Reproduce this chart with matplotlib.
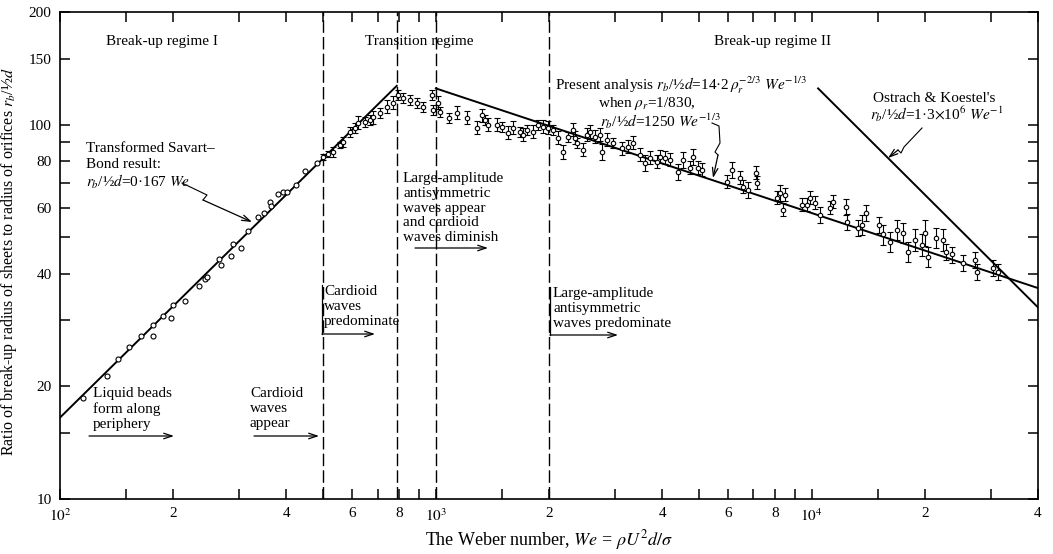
import numpy as np
import matplotlib
matplotlib.use("Agg")
import matplotlib.pyplot as plt
from matplotlib.ticker import FixedLocator, FixedFormatter, NullLocator

plt.rcParams['font.family'] = ['Liberation Serif', 'DejaVu Serif']
plt.rcParams['mathtext.fontset'] = 'stix'

# --- data ---
# break-up regime I, plain open circles
we_plain = [115, 133, 143, 153, 164, 177, 177, 188, 197, 200,
            215, 234, 243, 246, 265, 268, 285, 289, 303, 316,
            336, 349, 362, 364, 380, 392, 401, 424, 448, 483]
r_plain = [18.6, 21.3, 23.6, 25.4, 27.2, 27.2, 29.2, 30.9, 30.5, 32.9,
           33.9, 37.0, 38.6, 39.3, 43.9, 42.1, 44.7, 48.1, 46.7, 52.1,
           56.8, 58.2, 62.3, 60.8, 65.4, 66.2, 66.2, 69.1, 75.3, 79.1]

# points shown with error bars (We, r, error in %)
we_bar = [501, 516, 532, 555, 566, 591, 609, 620, 647, 667,
          680, 710, 741, 769, 792, 817, 853, 890, 923, 976,
          982, 1012, 1025, 1083, 1137, 1209, 1285, 1325, 1349, 1375,
          1453, 1498, 1554, 1603, 1672, 1704, 1746, 1811, 1867, 1926,
          1986, 2048, 2111, 2177, 2245, 2314, 2344, 2371, 2460, 2522,
          2568, 2648, 2730, 2764, 2850, 2956, 3123, 3240, 3341, 3488,
          3596, 3708, 3870, 3944, 4066, 4192, 4401, 4538, 4738, 4826,
          4975, 5099, 5942, 6126, 6435, 6554, 6760, 7100, 7145, 8070,
          8222, 8375, 8479, 9402, 9700, 9885, 10190, 10500, 11160, 11370,
          12310, 12390, 13250, 13580, 13920, 15070, 15450, 16120, 16830, 17460,
          17990, 18790, 19620, 19980, 20350, 21380, 22300, 22700, 23560, 25210,
          27140, 27480, 30280, 31240]
r_bar = [82.1, 83.6, 84.6, 88.3, 90.0, 95.7, 98.1, 101.2, 101.8, 103.0,
         104.9, 107.6, 111.6, 114.4, 120.1, 117.9, 116.5, 114.4, 111.6, 120.1,
         109.6, 114.4, 108.3, 104.3, 107.6, 104.3, 98.1, 106.2, 103.0, 99.9,
         99.9, 98.7, 95.2, 98.1, 95.7, 94.0, 96.9, 95.7, 99.9, 98.7,
         98.1, 96.9, 92.3, 84.6, 92.8, 96.9, 92.3, 89.5, 85.7, 94.0,
         95.7, 92.8, 94.0, 84.6, 91.1, 89.5, 86.7, 87.3, 89.5, 83.1,
         79.1, 81.6, 79.6, 82.1, 81.6, 80.6, 74.9, 80.6, 76.7, 82.1,
         76.7, 75.8, 70.4, 75.8, 72.1, 68.3, 67.0, 74.4, 70.0, 63.8,
         65.8, 59.3, 65.0, 61.1, 61.1, 63.8, 61.9, 57.5, 60.0, 62.3,
         60.4, 55.1, 53.1, 54.1, 58.2, 54.1, 50.9, 48.7, 52.4, 51.5,
         45.8, 49.3, 47.8, 51.5, 44.4, 49.9, 49.3, 45.8, 45.0, 42.8,
         43.6, 40.5, 41.5, 40.5]
err_pct = [2, 2, 3, 2, 3, 3, 3, 4, 3, 3,
           4, 3, 4, 4, 3, 3, 3, 3, 3, 3,
           3, 4, 3, 3, 4, 4, 4, 4, 3, 4,
           4, 3, 4, 4, 3, 4, 3, 4, 3, 4,
           4, 3, 4, 4, 3, 4, 4, 3, 4, 4,
           4, 4, 4, 5, 4, 3, 4, 4, 4, 4,
           5, 4, 4, 4, 4, 4, 5, 5, 4, 5,
           4, 4, 4, 5, 4, 4, 5, 4, 4, 4,
           5, 4, 4, 4, 4, 4, 4, 5, 4, 4,
           5, 5, 5, 6, 5, 5, 6, 6, 6, 6,
           6, 7, 7, 8, 6, 6, 7, 5, 5, 5,
           5, 5, 5, 5]

# straight-line results (end points)
savart_we = [100, 787]
savart_r = [16.5, 127]
present_we = [1000, 40000]
present_r = [125, 36.6]
ostrach_we = [10400, 40000]
ostrach_r = [125, 32.5]

# regime boundaries (vertical dashed lines)
regime_bounds = [500, 790, 1000, 2000]

x_ticks = [100, 150, 200, 300, 400, 500, 600, 700, 800, 900,
           1000, 1500, 2000, 3000, 4000, 5000, 6000, 7000, 8000, 9000,
           10000, 15000, 20000, 30000, 40000]
x_labels = {100: '$10^2$', 200: '2', 400: '4', 600: '6', 800: '8',
            1000: '$10^3$', 2000: '2', 4000: '4', 6000: '6', 8000: '8',
            10000: '$10^4$', 20000: '2', 40000: '4'}
y_ticks = [10, 15, 20, 30, 40, 50, 60, 70, 80, 90, 100, 150, 200]
y_labels = {10: '10', 20: '20', 40: '40', 60: '60', 80: '80',
            100: '100', 150: '150', 200: '200'}

W, H = 1053, 554
fig = plt.figure(figsize=(W / 100, H / 100), dpi=100)
AX_L, AX_R, AX_T, AX_B = 60, 1038, 12, 499
ax = fig.add_axes([AX_L / W, 1 - AX_B / H, (AX_R - AX_L) / W, (AX_B - AX_T) / H])
ax.set_xscale('log')
ax.set_yscale('log')
ax.set_xlim(100, 40000)
ax.set_ylim(10, 200)

ax.xaxis.set_major_locator(FixedLocator(x_ticks))
ax.xaxis.set_major_formatter(FixedFormatter([x_labels.get(t, '') for t in x_ticks]))
ax.yaxis.set_major_locator(FixedLocator(y_ticks))
ax.yaxis.set_major_formatter(FixedFormatter([y_labels.get(t, '') for t in y_ticks]))
ax.xaxis.set_minor_locator(NullLocator())
ax.yaxis.set_minor_locator(NullLocator())
ax.tick_params(direction='in', top=True, right=True, length=7, width=1.1,
               labelsize=11, pad=6)
for sp in ax.spines.values():
    sp.set_linewidth(1.2)

# regime boundaries
for we in regime_bounds:
    ax.axvline(we, color='k', lw=1.0, dashes=(9, 3))

# correlation lines
ax.plot(savart_we, savart_r, color='k', lw=1.4)
ax.plot(present_we, present_r, color='k', lw=1.4)
ax.plot(ostrach_we, ostrach_r, color='k', lw=1.4)

# measurements
ax.plot(we_plain, r_plain, 'o', mfc='white', mec='k', ms=3.6, mew=0.8)
we_b = np.array(we_bar)
r_b = np.array(r_bar)
yerr = r_b * np.array(err_pct) / 100.0
ax.errorbar(we_b, r_b, yerr=yerr, fmt='o', mfc='white', mec='k', ms=3.2,
            mew=0.8, ecolor='k', elinewidth=0.8, capsize=2, capthick=0.8)


# --- annotations, positioned in figure pixels ---
def px(x, y):
    return ((x - AX_L) / (AX_R - AX_L), (AX_B - y) / (AX_B - AX_T))


def note(x, y, s, va='top', **kw):
    ax.text(*px(x, y), s, transform=ax.transAxes, fontsize=11, ha='left',
            va=va, linespacing=1.18, **kw)


def arrow(p0, p1):
    ax.annotate('', xy=px(*p1), xytext=px(*p0), xycoords='axes fraction',
                textcoords='axes fraction',
                arrowprops=dict(arrowstyle='->,head_length=0.6,head_width=0.2',
                                color='k', lw=0.9, shrinkA=0, shrinkB=0))


def leader(points):
    pts = [px(*p) for p in points]
    xs, ys = zip(*pts[:-1])
    ax.plot(xs, ys, color='k', lw=0.8, transform=ax.transAxes)
    arrow(points[-2], points[-1])


def bracket(x, y0, y1, x1):
    ax.plot(*zip(px(x, y0), px(x, y1)), color='k', lw=0.9, transform=ax.transAxes)
    arrow((x, y1), (x1, y1))


HALF = '$r_b$/\u00bd$d$'

note(106, 35, 'Break-up regime I')
note(365, 35, 'Transition regime')
note(714, 35, 'Break-up regime II')

note(86, 148, 'Transformed Savart\u2013', va='center')
note(86, 165, 'Bond result:', va='center')
note(86, 182, HALF + '=0·167 $We$', va='center')
leader([(182, 183), (207, 195), (203, 200), (252, 222)])

note(555, 85, 'Present analysis ' + HALF + r'=14·2$\,\rho_r^{-2/3}$ $We^{-1/3}$',
     va='center')
note(598, 104, r'when $\rho_r$=1/830,', va='center')
note(600, 121, HALF + r'=1250 $We^{-1/3}$', va='center')
leader([(712, 123), (719, 126), (720, 143), (715, 152), (718, 155), (713, 178)])

note(873, 98, "Ostrach & Koestel's", va='center')
note(870, 114, HALF + r'=1·3$\times$10$^6$ $We^{-1}$', va='center')
leader([(922, 128), (904, 147), (901, 153), (898, 150), (888, 158)])

note(403, 172, 'Large-amplitude\nantisymmetric\nwaves appear\nand cardioid\nwaves diminish')
arrow((415, 248), (488, 248))

note(324, 285, 'Cardioid\nwaves\npredominate')
bracket(322, 285, 334, 375)

note(553, 287, 'Large-amplitude\nantisymmetric\nwaves predominate')
bracket(550, 287, 335, 618)

note(93, 387, 'Liquid beads\nform along\nperiphery')
arrow((89, 436), (174, 436))

note(250, 387, 'Cardioid\nwaves\nappear')
arrow((254, 436), (319, 436))

ax.set_xlabel(r'The Weber number, $We$ = $\rho U^2d/\sigma$', fontsize=13, labelpad=3)
ax.set_ylabel('Ratio of break-up radius of sheets to radius of orifices ' + HALF,
              fontsize=11.5)
ax.yaxis.set_label_coords(*px(19, 262))

fig.savefig('out.png', dpi=100)
